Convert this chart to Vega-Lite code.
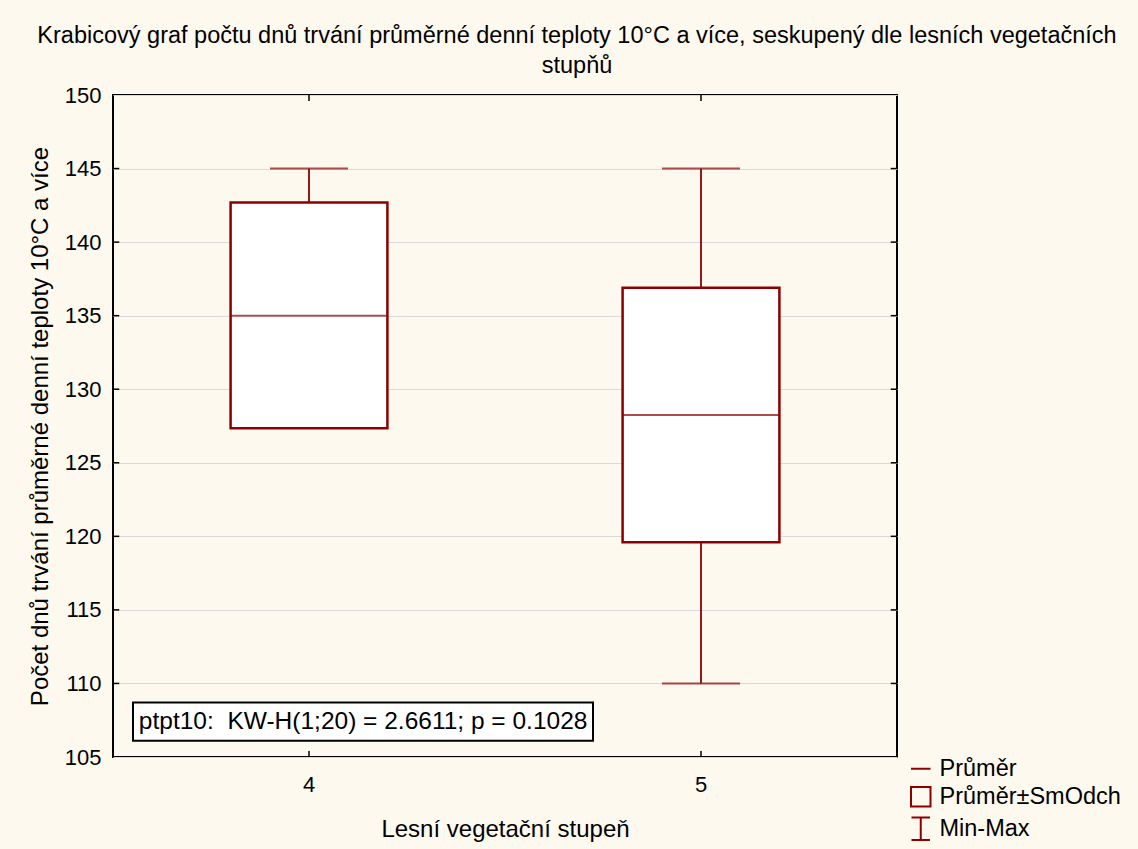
{
  "$schema": "https://vega.github.io/schema/vega-lite/v6.json",
  "width": 784,
  "height": 662,
  "autosize": {"type": "none"},
  "padding": {"left": 113, "top": 95, "right": 241, "bottom": 92},
  "background": "#fdf9ef",
  "title": {
    "text": ["Krabicový graf počtu dnů trvání průměrné denní teploty 10°C a více, seskupený dle lesních vegetačních", "stupňů"],
    "fontSize": 23.5,
    "fontWeight": "normal",
    "color": "black",
    "anchor": "middle",
    "frame": "group",
    "dx": 72,
    "offset": 7,
    "lineHeight": 30
  },
  "config": {
    "font": "Liberation Sans",
    "view": {"fill": "white", "stroke": "black", "strokeWidth": 2},
    "axis": {
      "labelColor": "black",
      "labelFontSize": 22,
      "titleColor": "black",
      "titleFontSize": 24,
      "titleFontWeight": "normal",
      "domain": false,
      "ticks": false
    }
  },
  "datasets": {
    "krabice": [
      {"stupen": "4", "prumer": 135.0, "dolni": 127.35, "horni": 142.7, "min": 130, "max": 145},
      {"stupen": "5", "prumer": 128.25, "dolni": 119.6, "horni": 136.9, "min": 110, "max": 145}
    ],
    "yznacky": [
      {"hodnota": 110}, {"hodnota": 115}, {"hodnota": 120}, {"hodnota": 125},
      {"hodnota": 130}, {"hodnota": 135}, {"hodnota": 140}, {"hodnota": 145}
    ],
    "xznacky": [
      {"stupen": "4"}, {"stupen": "5"}
    ],
    "legenda": [
      {"polozka": "Průměr"},
      {"polozka": "Průměr±SmOdch"},
      {"polozka": "Min-Max"}
    ],
    "popisek": [
      {"text": "ptpt10: \u00a0KW-H(1;20) = 2.6611; p = 0.1028"}
    ]
  },
  "layer": [
    {
      "data": {"name": "krabice"},
      "mark": {"type": "rule", "color": "#8b0000", "strokeWidth": 1.8},
      "encoding": {
        "x": {
          "field": "stupen", "type": "nominal",
          "scale": {"type": "band", "domain": ["4", "5"], "paddingInner": 0, "paddingOuter": 0},
          "axis": {"title": "Lesní vegetační stupeň", "labelAngle": 0, "labelPadding": 17, "titlePadding": 22, "grid": false}
        },
        "y": {
          "field": "min", "type": "quantitative",
          "scale": {"domain": [105, 150], "nice": false, "zero": false},
          "axis": {
            "title": "Počet dnů trvání průměrné denní teploty 10°C a více",
            "values": [105, 110, 115, 120, 125, 130, 135, 140, 145, 150],
            "grid": true, "gridColor": "#dadada", "gridWidth": 1,
            "labelPadding": 12, "titlePadding": 12
          }
        },
        "y2": {"field": "max"}
      }
    },
    {
      "data": {"name": "yznacky"},
      "mark": {"type": "rule", "color": "black", "strokeWidth": 1.5},
      "encoding": {
        "x": {"datum": "4", "bandPosition": 0},
        "x2": {"datum": "4", "bandPosition": 0.016},
        "y": {"field": "hodnota", "type": "quantitative"}
      }
    },
    {
      "data": {"name": "yznacky"},
      "mark": {"type": "rule", "color": "black", "strokeWidth": 1.5},
      "encoding": {
        "x": {"datum": "5", "bandPosition": 0.984},
        "x2": {"datum": "5", "bandPosition": 1},
        "y": {"field": "hodnota", "type": "quantitative"}
      }
    },
    {
      "data": {"name": "xznacky"},
      "mark": {"type": "rule", "color": "black", "strokeWidth": 1.5},
      "encoding": {
        "x": {"field": "stupen", "type": "nominal"},
        "y": {"datum": 105},
        "y2": {"datum": 105.4}
      }
    },
    {
      "data": {"name": "xznacky"},
      "mark": {"type": "rule", "color": "black", "strokeWidth": 1.5},
      "encoding": {
        "x": {"field": "stupen", "type": "nominal"},
        "y": {"datum": 149.6},
        "y2": {"datum": 150}
      }
    },
    {
      "data": {"name": "krabice"},
      "mark": {"type": "tick", "color": "#8b0000", "size": 78, "thickness": 2},
      "encoding": {
        "x": {"field": "stupen", "type": "nominal"},
        "y": {"field": "max", "type": "quantitative"}
      }
    },
    {
      "data": {"name": "krabice"},
      "mark": {"type": "tick", "color": "#8b0000", "size": 78, "thickness": 2},
      "encoding": {
        "x": {"field": "stupen", "type": "nominal"},
        "y": {"field": "min", "type": "quantitative"}
      }
    },
    {
      "data": {"name": "krabice"},
      "mark": {"type": "bar", "fill": "white", "stroke": "#8b0000", "strokeWidth": 2.5, "width": {"band": 0.4}},
      "encoding": {
        "x": {"field": "stupen", "type": "nominal"},
        "y": {"field": "dolni", "type": "quantitative"},
        "y2": {"field": "horni"}
      }
    },
    {
      "data": {"name": "krabice"},
      "mark": {"type": "tick", "color": "#8b0000", "size": 156, "thickness": 2},
      "encoding": {
        "x": {"field": "stupen", "type": "nominal"},
        "y": {"field": "prumer", "type": "quantitative"}
      }
    },
    {
      "data": {"name": "popisek"},
      "mark": {"type": "rect", "fill": "white", "stroke": "black", "strokeWidth": 2},
      "encoding": {
        "x": {"datum": "4", "bandPosition": 0.051},
        "x2": {"datum": "5", "bandPosition": 0.2245},
        "y": {"datum": 108.7},
        "y2": {"datum": 106.1}
      }
    },
    {
      "data": {"name": "popisek"},
      "mark": {"type": "text", "align": "left", "baseline": "middle", "fontSize": 24.5, "color": "black"},
      "encoding": {
        "x": {"datum": "4", "bandPosition": 0.066},
        "y": {"datum": 107.4},
        "text": {"field": "text"}
      }
    },
    {
      "data": {"name": "legenda"},
      "mark": {"type": "point", "filled": false, "opacity": 0},
      "encoding": {
        "color": {
          "field": "polozka", "type": "nominal",
          "scale": {"domain": ["Průměr", "Průměr±SmOdch", "Min-Max"], "range": ["#8b0000", "#8b0000", "#8b0000"]},
          "legend": {
            "title": null,
            "orient": "none",
            "legendX": 796,
            "legendY": 662,
            "padding": 0,
            "labelFontSize": 23.5,
            "labelColor": "black",
            "labelOffset": 7,
            "labelLimit": 300,
            "rowPadding": 2,
            "symbolSize": 380,
            "symbolStrokeWidth": 2,
            "symbolOpacity": 1,
            "symbolFillColor": "transparent"
          }
        },
        "shape": {
          "field": "polozka", "type": "nominal",
          "scale": {"domain": ["Průměr", "Průměr±SmOdch", "Min-Max"], "range": ["M-1,0L1,0", "square", "M-0.95,-1.15L0.95,-1.15M0,-1.15L0,1.15M-0.95,1.15L0.95,1.15"]},
          "legend": {
            "title": null,
            "orient": "none",
            "legendX": 796,
            "legendY": 662,
            "padding": 0,
            "labelFontSize": 23.5,
            "labelColor": "black",
            "labelOffset": 7,
            "labelLimit": 300,
            "rowPadding": 2,
            "symbolSize": 380,
            "symbolStrokeWidth": 2,
            "symbolOpacity": 1,
            "symbolFillColor": "transparent"
          }
        }
      }
    }
  ]
}
